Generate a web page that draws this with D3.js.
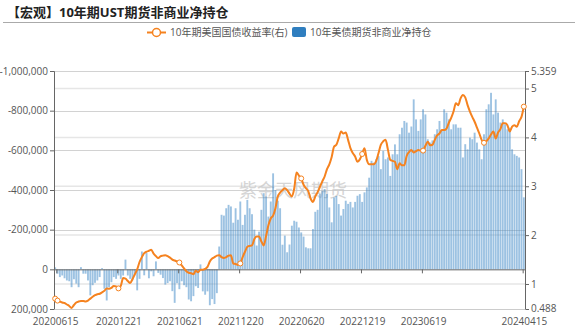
<!DOCTYPE html>
<html>
<head>
<meta charset="utf-8">
<script src="https://cdn.jsdelivr.net/npm/d3@7/dist/d3.min.js"></script>
<style>
  body { margin: 0; background: #fff; }
  svg { display: block; }
  text { font-family: "Open Sans", "Noto Sans CJK SC", sans-serif; }
</style>
</head>
<body>
<svg id="chart" width="577" height="328"></svg>
<script>
// Weekly categories: first report date and number of weeks
const firstWeek = "20200615";
const weekCount = 201;

// Dates that get an axis label
const tickLabels = ["20200615", "20201221", "20210621", "20211220",
                    "20220620", "20221219", "20230619", "20240415"];

// 10Y T-Note futures, non-commercial net position (contracts)
const netPosition = [
  -10000, 22000, 39000, 31000, 45000, 56000, 60000, 90000, 50000, 72000,
  90000, -11000, 22000, 22000, 56000, 131000, 80000, 68000, 56000, 39000,
  -6000, 98000, 157000, 90000, 65000, 39000, 48000, 31000, 48000, 31000,
  -49000, 31000, 48000, 56000, 22000, 106000, 48000, -90000, 30000, -82000,
  45000, 10000, 35000, -40000, 18000, 27000, 44000, 77000, 69000, 60000,
  110000, 169000, 70000, 100000, 60000, 80000, 90000, 152000, 161000, 135000,
  85000, 94000, -25000, 111000, 128000, 111000, 181000, 150000, 175000, 120000,
  -115000, -275000, -271000, -308000, -325000, -317000, -235000, -308000, -250000, -342000,
  -224000, -275000, -350000, -308000, -278000, -200000, -120000, -190000, -300000, -384000,
  -367000, -266000, -342000, -484000, -400000, -346000, -308000, -124000, -170000, -86000,
  -125000, -220000, -245000, -240000, -211000, -186000, -165000, -111000, -106000, -106000,
  -203000, -290000, -300000, -380000, -396000, -405000, -380000, -312000, -237000, -362000,
  -370000, -329000, -271000, -304000, -346000, -330000, -340000, -312000, -340000, -371000,
  -379000, -340000, -388000, -413000, -462000, -547000, -538000, -555000, -571000, -505000,
  -597000, -555000, -564000, -471000, -580000, -630000, -580000, -681000, -714000, -748000,
  -740000, -689000, -720000, -857000, -756000, -698000, -756000, -807000, -781000, -656000,
  -639000, -650000, -681000, -706000, -748000, -698000, -807000, -790000, -756000, -706000,
  -731000, -731000, -714000, -714000, -564000, -631000, -605000, -664000, -656000, -689000,
  -639000, -605000, -555000, -681000, -807000, -832000, -890000, -781000, -857000, -790000,
  -740000, -756000, -731000, -706000, -714000, -605000, -580000, -572000, -564000, -505000,
  -363000
];

// 10Y US Treasury yield (%), right axis
const yield10y = [
  0.70, 0.66, 0.64, 0.62, 0.61, 0.58, 0.55, 0.51, 0.57, 0.62,
  0.64, 0.65, 0.65, 0.64, 0.66, 0.70, 0.74, 0.77, 0.79, 0.80,
  0.83, 0.86, 0.91, 0.90, 0.92, 0.96, 0.95, 0.91, 0.96, 1.12,
  1.11, 1.06, 1.02, 1.10, 1.20, 1.30, 1.45, 1.55, 1.63, 1.66,
  1.68, 1.70, 1.62, 1.57, 1.53, 1.57, 1.58, 1.59, 1.57, 1.54,
  1.50, 1.48, 1.46, 1.44, 1.38, 1.32, 1.26, 1.23, 1.22, 1.20,
  1.27, 1.24, 1.29, 1.29, 1.31, 1.35, 1.46, 1.52, 1.55, 1.58,
  1.59, 1.55, 1.53, 1.55, 1.58, 1.59, 1.42, 1.41, 1.39, 1.42,
  1.55, 1.66, 1.76, 1.78, 1.79, 1.92, 1.97, 1.97, 1.87, 1.79,
  1.98, 2.20, 2.34, 2.40, 2.55, 2.79, 2.87, 2.92, 2.96, 2.92,
  2.85, 2.79, 2.95, 3.28, 3.22, 3.16, 3.03, 2.96, 2.90, 2.75,
  2.68, 2.79, 2.88, 2.99, 3.10, 3.20, 3.35, 3.45, 3.60, 3.81,
  3.85, 3.98, 4.12, 4.08, 4.10, 3.95, 3.78, 3.68, 3.61, 3.50,
  3.55, 3.66, 3.78, 3.54, 3.45, 3.45, 3.45, 3.52, 3.68, 3.85,
  3.92, 3.95, 3.75, 3.54, 3.52, 3.50, 3.35, 3.47, 3.43, 3.43,
  3.62, 3.70, 3.74, 3.69, 3.72, 3.74, 3.73, 3.73, 3.83, 3.91,
  3.84, 3.85, 3.95, 4.04, 4.08, 4.15, 4.15, 4.18, 4.30, 4.40,
  4.53, 4.70, 4.66, 4.80, 4.87, 4.82, 4.66, 4.53, 4.42, 4.32,
  4.20, 4.08, 3.95, 3.89, 3.92, 3.98, 4.06, 4.12, 3.98, 4.10,
  4.17, 4.29, 4.29, 4.25, 4.12, 4.22, 4.25, 4.22, 4.33, 4.42,
  4.63
];

const leftTicks = [-1000000, -800000, -600000, -400000, -200000, 0, 200000];
const rightTicks = [0.488, 1, 2, 3, 4, 5, 5.359];
const seriesNames = ["10年期美国国债收益率(右)", "10年美债期货非商业净持仓"];

// ---- categories ----
const parseDay = d3.utcParse("%Y%m%d");
const fmtDay = d3.utcFormat("%Y%m%d");
const categories = d3.range(weekCount).map(i => fmtDay(d3.utcWeek.offset(parseDay(firstWeek), i)));

// ---- layout ----
const plot = { left: 54, right: 525, top: 71, bottom: 309 };
const colors = { bar: "#3a86c6", line: "#f5821f", axis: "#666", text: "#555", grid: "#d2d2d2", grid2: "#e6e6e6" };

const svg = d3.select("#chart");

const x = d3.scaleBand().domain(d3.range(weekCount))
  .range([plot.left, plot.right]).paddingInner(0.2).paddingOuter(0.1);
const xEdge = d3.scaleLinear().domain([0, weekCount]).range([plot.left, plot.right]);
const yL = d3.scaleLinear().domain([-1000000, 200000]).range([plot.top, plot.bottom]);
const yR = d3.scaleLinear().domain([0.488, 5.359]).range([plot.bottom, plot.top]);

// ---- title ----
svg.append("text").attr("x", 7).attr("y", 17)
  .attr("font-size", 13).attr("font-weight", "bold").attr("fill", "#222")
  .text("【宏观】10年期UST期货非商业净持仓");
svg.append("line").attr("x1", 3).attr("x2", 575).attr("y1", 22.5).attr("y2", 22.5)
  .attr("stroke", "#aaa").attr("stroke-width", 1);

// ---- legend ----
const lg = svg.append("g").attr("font-size", 10).attr("fill", colors.text);
lg.append("line").attr("x1", 147).attr("x2", 166).attr("y1", 32.5).attr("y2", 32.5)
  .attr("stroke", colors.line).attr("stroke-width", 2);
lg.append("circle").attr("cx", 156.5).attr("cy", 32.5).attr("r", 4)
  .attr("fill", "#fff").attr("stroke", colors.line).attr("stroke-width", 1.5);
lg.append("text").attr("x", 170).attr("y", 36).text(seriesNames[0]);
lg.append("rect").attr("x", 292).attr("y", 27).attr("width", 14).attr("height", 10)
  .attr("rx", 2).attr("fill", "#2f7ebf");
lg.append("text").attr("x", 310).attr("y", 36).text(seriesNames[1]);

// ---- grid lines ----
svg.append("g").selectAll("line").data(rightTicks.filter(v => v >= 1 && v <= 5))
  .join("line")
  .attr("x1", plot.left).attr("x2", plot.right)
  .attr("y1", d => yR(d)).attr("y2", d => yR(d))
  .attr("stroke", colors.grid2).attr("stroke-width", 1.5);
svg.append("g").selectAll("line").data(leftTicks.filter(v => v !== 0))
  .join("line")
  .attr("x1", plot.left).attr("x2", plot.right)
  .attr("y1", d => Math.round(yL(d)) + 0.5).attr("y2", d => Math.round(yL(d)) + 0.5)
  .attr("stroke", colors.grid).attr("stroke-width", 1);

// ---- watermark ----
svg.append("text").attr("x", 293).attr("y", 197).attr("text-anchor", "middle")
  .attr("font-size", 18).attr("fill", "#c8c8c8").attr("opacity", 0.75)
  .attr("font-family", "'Noto Sans CJK SC', sans-serif")
  .text("紫金天风期货");

// ---- bars ----
svg.append("g").selectAll("rect").data(netPosition)
  .join("rect")
  .attr("x", (d, i) => x(i))
  .attr("width", x.bandwidth())
  .attr("y", d => Math.min(yL(d), yL(0)))
  .attr("height", d => Math.abs(yL(d) - yL(0)))
  .attr("fill", colors.bar).attr("fill-opacity", 0.5);

// ---- axes ----
const fmtLeft = v => d3.format(",")(v).replace("\u2212", "-");
const axL = svg.append("g").attr("transform", `translate(${plot.left},0)`)
  .call(d3.axisLeft(yL).tickValues(leftTicks).tickFormat(fmtLeft).tickSize(4).tickPadding(2));
const axR = svg.append("g").attr("transform", `translate(${plot.right},0)`)
  .call(d3.axisRight(yR).tickValues(rightTicks).tickFormat(d => String(d)).tickSize(4).tickPadding(2));
[axL, axR].forEach(g => {
  g.selectAll("path, line").attr("stroke", colors.axis);
  g.selectAll("text").attr("fill", colors.text).attr("font-size", 10);
  g.attr("font-family", null);
});
// keep the lowest right-axis label clear of the date labels below it
axR.selectAll(".tick").filter(d => d === 0.488).select("text").attr("dy", "0.2em");

// category axis along the zero line: ticks on week boundaries
const tickIdx = tickLabels.map(t => categories.indexOf(t));
const tickEdges = tickIdx.map(i => (i === 0 ? 1 : i));
const axX = svg.append("g").attr("transform", `translate(0,${yL(0)})`)
  .call(d3.axisBottom(xEdge).tickValues(tickEdges).tickFormat("").tickSize(4).tickSizeOuter(0));
axX.select("path").attr("stroke", colors.axis);
axX.selectAll("line").attr("stroke", colors.axis);

// category labels along the bottom of the plot
const axLab = svg.append("g").attr("transform", `translate(0,${plot.bottom})`)
  .call(d3.axisBottom(xEdge).tickValues(tickIdx.map(i => i + 0.5))
    .tickFormat((d, k) => tickLabels[k]).tickSize(0).tickPadding(9));
axLab.select("path").attr("stroke", "#ccc");
axLab.selectAll("text").attr("fill", colors.text).attr("font-size", 10);
axLab.attr("font-family", null);

// ---- yield line ----
const cx = i => x(i) + x.bandwidth() / 2;
svg.append("path").datum(yield10y)
  .attr("fill", "none").attr("stroke", colors.line).attr("stroke-width", 2)
  .attr("stroke-linejoin", "round")
  .attr("d", d3.line().x((d, i) => cx(i)).y(d => yR(d)).curve(d3.curveMonotoneX));

const markerIdx = [0, 1, 27, 53, 79, 105, 131, 157, 183, 200];
svg.append("g").selectAll("circle").data(markerIdx)
  .join("circle")
  .attr("cx", i => cx(i)).attr("cy", i => yR(yield10y[i])).attr("r", 2.5)
  .attr("fill", "#fff").attr("stroke", colors.line).attr("stroke-width", 1);
</script>
</body>
</html>
